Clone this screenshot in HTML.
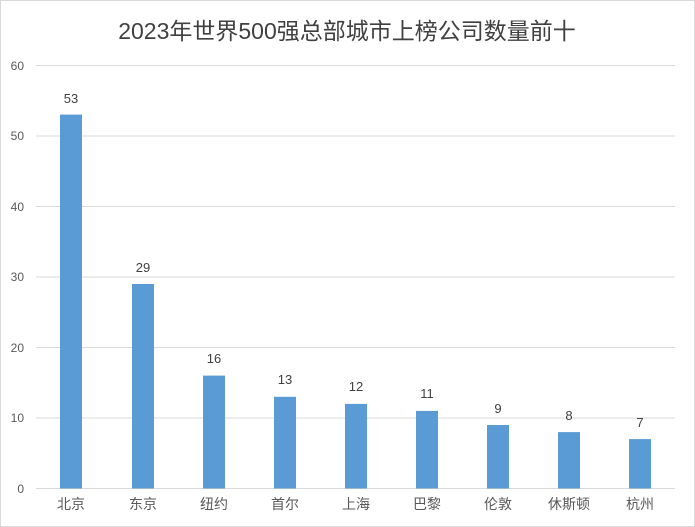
<!DOCTYPE html>
<html><head><meta charset="utf-8"><style>
body{margin:0;background:#fff;}
svg{display:block;}
text{font-family:"Liberation Sans","Noto Sans CJK SC",sans-serif;}
</style></head><body>
<svg width="695" height="527" viewBox="0 0 695 527">
<rect x="0.5" y="0.5" width="694" height="526" fill="#fff" stroke="#d9d9d9"/>
<text x="347" y="39" font-size="23" fill="#404040" text-anchor="middle">2023年世界500强总部城市上榜公司数量前十</text>
<g stroke="#d9d9d9" stroke-width="1">
<line x1="36" x2="675" y1="65.5" y2="65.5"/>
<line x1="36" x2="675" y1="136" y2="136"/>
<line x1="36" x2="675" y1="206.5" y2="206.5"/>
<line x1="36" x2="675" y1="277" y2="277"/>
<line x1="36" x2="675" y1="347.5" y2="347.5"/>
<line x1="36" x2="675" y1="418" y2="418"/>
<line x1="36" x2="675" y1="488.5" y2="488.5"/>
</g>
<g font-size="12" fill="#595959" text-anchor="end">
<text x="24" y="70">60</text><text x="24" y="140">50</text><text x="24" y="211">40</text>
<text x="24" y="281">30</text><text x="24" y="352">20</text><text x="24" y="422">10</text><text x="24" y="493">0</text>
</g>
<g fill="#5b9bd5">
<rect x="60" y="114.6" width="22" height="373.9"/>
<rect x="132" y="284" width="22" height="204.5"/>
<rect x="203" y="375.6" width="22" height="112.9"/>
<rect x="274" y="396.8" width="22" height="91.7"/>
<rect x="345" y="403.9" width="22" height="84.6"/>
<rect x="416" y="410.9" width="22" height="77.6"/>
<rect x="487" y="425" width="22" height="63.5"/>
<rect x="558" y="432.1" width="22" height="56.4"/>
<rect x="629" y="439.1" width="22" height="49.4"/>
</g>
<g font-size="13" fill="#404040" text-anchor="middle">
<text x="71" y="103">53</text><text x="143" y="272">29</text><text x="214" y="363">16</text>
<text x="285" y="384">13</text><text x="356" y="391">12</text><text x="427" y="398">11</text>
<text x="498" y="413">9</text><text x="569" y="420">8</text><text x="640" y="427">7</text>
</g>
<g font-size="14" fill="#595959" text-anchor="middle">
<text x="71" y="509">北京</text><text x="143" y="509">东京</text><text x="214" y="509">纽约</text>
<text x="285" y="509">首尔</text><text x="356" y="509">上海</text><text x="427" y="509">巴黎</text>
<text x="498" y="509">伦敦</text><text x="569" y="509">休斯顿</text><text x="640" y="509">杭州</text>
</g>
</svg>
</body></html>
